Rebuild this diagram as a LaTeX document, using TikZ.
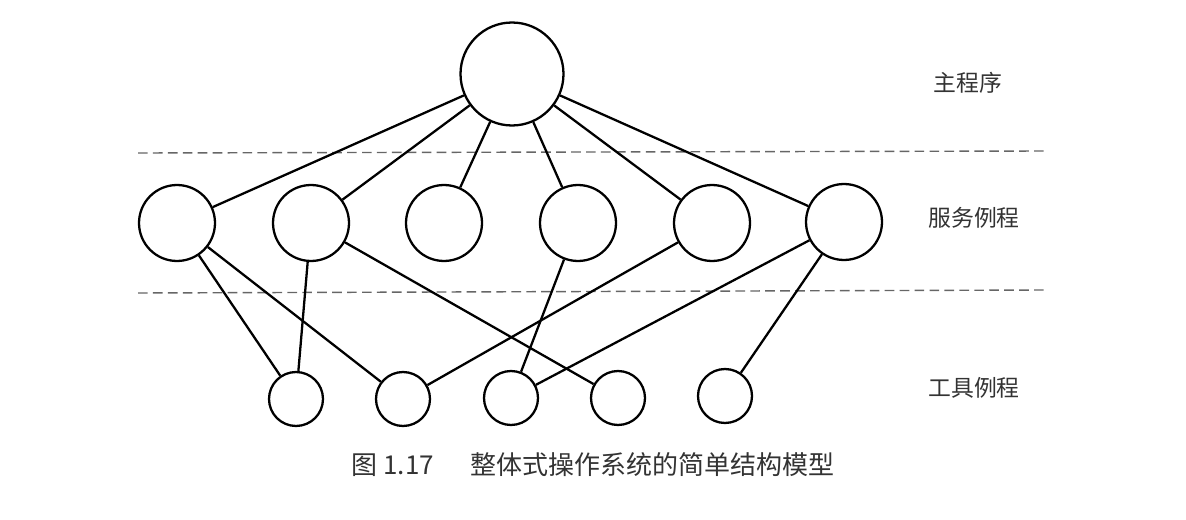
\documentclass[tikz,border=0pt]{standalone}
\usepackage{fontspec}
\usepackage{tikz}
\usetikzlibrary{positioning, calc}
\newfontfamily\cjk{Noto Sans CJK SC}
\tikzset{
  rootnode/.style={circle, draw, line width=1.3pt, inner sep=0pt, minimum size=2.06cm},
  svcnode/.style={circle, draw, line width=1.3pt, inner sep=0pt, minimum size=1.52cm},
  toolnode/.style={circle, draw, line width=1.3pt, inner sep=0pt, minimum size=1.08cm},
  link/.style={line width=1.3pt},
  layerline/.style={line width=0.8pt, black!60, dash pattern=on 5.5pt off 3pt},
  layername/.style={font=\cjk\fontsize{13}{15}\selectfont, text=black!80}
}

\begin{document}
\begin{tikzpicture}[x=0.02cm, y=-0.02cm]
  \useasboundingbox (0,0) rectangle (1186,520);
  % layers
  \draw[layerline] (138,153) -- (1048,151);
  \draw[layerline] (138,293) -- (1048,290);
  % main program
  \node[rootnode] (root) at (512,74) {};
  % service routines
  \node[svcnode] (s1) at (177,223) {};
  \node[svcnode] (s2) at (311,223) {};
  \node[svcnode] (s3) at (444,223) {};
  \node[svcnode] (s4) at (578,223) {};
  \node[svcnode] (s5) at (712,223) {};
  \node[svcnode] (s6) at (844,222) {};
  % utility routines
  \node[toolnode] (t1) at (296,399) {};
  \node[toolnode] (t2) at (403,399) {};
  \node[toolnode] (t3) at (511,398) {};
  \node[toolnode] (t4) at (618,398) {};
  \node[toolnode] (t5) at (725,396) {};
  \foreach \s in {s1,s2,s3,s4,s5,s6}
    \draw[link] (root) -- (\s);
  \draw[link] (s1) -- (t1);
  \draw[link] (s1) -- (t2);
  \draw[link] (s2) -- (t1);
  \draw[link] (s2) -- (t4);
  \draw[link] (s4) -- (t3);
  \draw[link] (s5) -- (t2);
  \draw[link] (s6) -- (t3);
  \draw[link] (s6) -- (t5);
  % labels
  \node[layername] (lmain) at (968,83) {主程序};
  \node[layername] (lsvc) at (974,218) {服务例程};
  \node[layername] (ltool) at (974,388) {工具例程};
  \node[font=\cjk\fontsize{14.8}{16}\selectfont, text=black!80] (cap) at (593,465)
    {图 1.17\hspace{1.4em}整体式操作系统的简单结构模型};
\end{tikzpicture}
\end{document}
